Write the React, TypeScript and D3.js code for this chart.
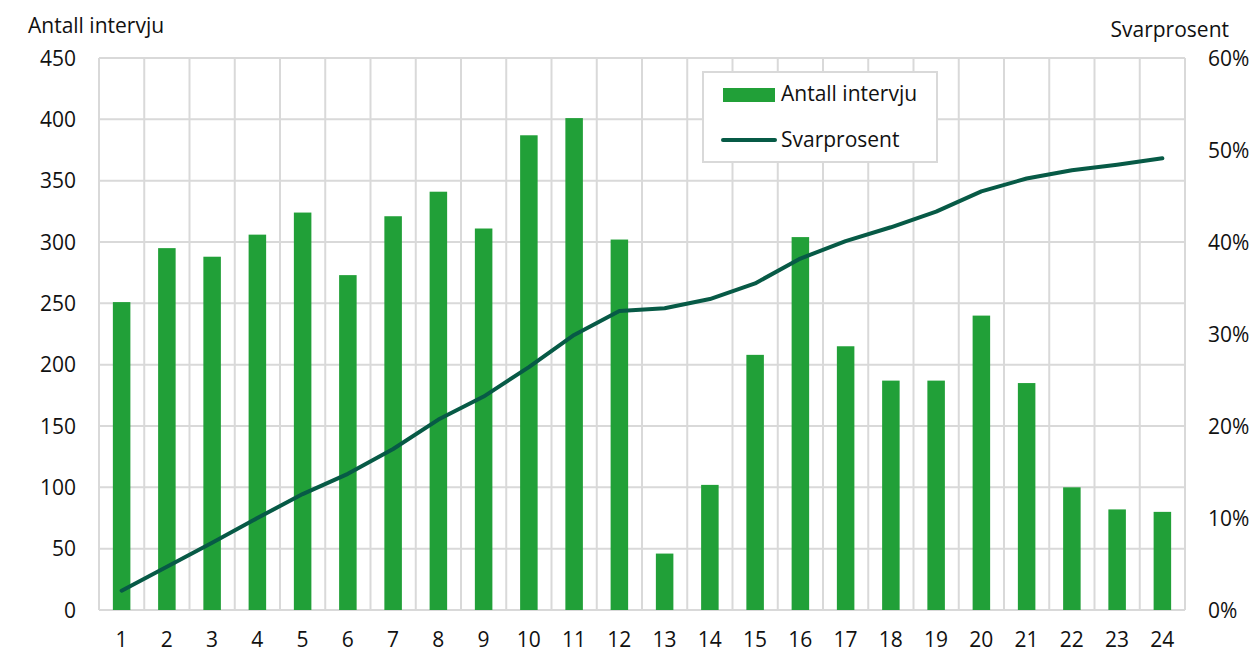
import React from "react";
import * as d3 from "d3";

const categories = ["1","2","3","4","5","6","7","8","9","10","11","12","13","14","15","16","17","18","19","20","21","22","23","24"];
const interviews = [251, 295, 288, 306, 324, 273, 321, 341, 311, 387, 401, 302, 46, 102, 208, 304, 215, 187, 187, 240, 185, 100, 82, 80];
const responseRate = [2.1, 4.7, 7.3, 10.0, 12.6, 14.8, 17.5, 20.7, 23.2, 26.4, 29.9, 32.5, 32.8, 33.8, 35.5, 38.2, 40.1, 41.6, 43.3, 45.5, 46.9, 47.8, 48.4, 49.1];
const leftTicks = [0, 50, 100, 150, 200, 250, 300, 350, 400, 450];
const rightTicks = [0, 10, 20, 30, 40, 50, 60];

const W = 1252, H = 652;
const L = 99, R = 1185, T = 58, B = 610;
const FONT = "'Open Sans', 'DejaVu Sans', sans-serif";
const GRID = "#d9d9d9";
const BAR = "#21a038";
const LINE = "#075a46";

export default function App() {
  const xCell = d3.scaleBand<string>().domain(categories).range([L, R]).padding(0);
  const xBar = d3.scaleBand<string>().domain(categories).range([L, R]).paddingInner(0.613).paddingOuter(0.3065);
  const yL = d3.scaleLinear().domain([0, 450]).range([B, T]);
  const yR = d3.scaleLinear().domain([0, 60]).range([B, T]);
  const step = xCell.step();
  const cx = (c: string) => (xCell(c) as number) + step / 2;

  const line = d3.line<number>()
    .x((_, i) => cx(categories[i]))
    .y((d) => yR(d))
    .curve(d3.curveLinear);

  const vLines = [...categories.map((c) => xCell(c) as number), R];

  return (
    <svg width={W} height={H} style={{ position: "absolute", left: 0, top: 0, background: "#fff" }} fontFamily={FONT}>
      <rect x={0} y={0} width={W} height={H} fill="#fff" />
      {leftTicks.map((t) => (
        <line key={"h" + t} x1={L} x2={R} y1={yL(t)} y2={yL(t)} stroke={GRID} strokeWidth={2} />
      ))}
      {vLines.map((x, i) => (
        <line key={"v" + i} x1={x} x2={x} y1={T} y2={B} stroke={GRID} strokeWidth={2} />
      ))}
      {categories.map((c, i) => (
        <rect key={"b" + c} x={xBar(c)} y={yL(interviews[i])} width={xBar.bandwidth()} height={B - yL(interviews[i])} fill={BAR} />
      ))}
      <path d={line(responseRate) || ""} fill="none" stroke={LINE} strokeWidth={4} strokeLinecap="round" strokeLinejoin="round" />
      {leftTicks.map((t) => (
        <text key={"lt" + t} x={76} y={yL(t)} dy="0.36em" textAnchor="end" fontSize={21} fill="#111">{t}</text>
      ))}
      {rightTicks.map((t) => (
        <text key={"rt" + t} x={1208} y={yR(t)} dy="0.36em" textAnchor="start" fontSize={21} fill="#111">{t + "%"}</text>
      ))}
      {categories.map((c) => (
        <text key={"xt" + c} x={cx(c)} y={647} textAnchor="middle" fontSize={21} fill="#111">{c}</text>
      ))}
      <text x={28} y={33} fontSize={21} fill="#111">Antall intervju</text>
      <text x={1229} y={37} textAnchor="end" fontSize={21} fill="#111">Svarprosent</text>
      <g>
        <rect x={703} y={72} width={234} height={90} fill="#fff" stroke={GRID} strokeWidth={2} />
        <rect x={723} y={88} width={52} height={14} fill={BAR} />
        <text x={781} y={101} fontSize={21} fill="#111">Antall intervju</text>
        <line x1={723} x2={775} y1={140} y2={140} stroke={LINE} strokeWidth={4} strokeLinecap="round" />
        <text x={781} y={147} fontSize={21} fill="#111">Svarprosent</text>
      </g>
    </svg>
  );
}
